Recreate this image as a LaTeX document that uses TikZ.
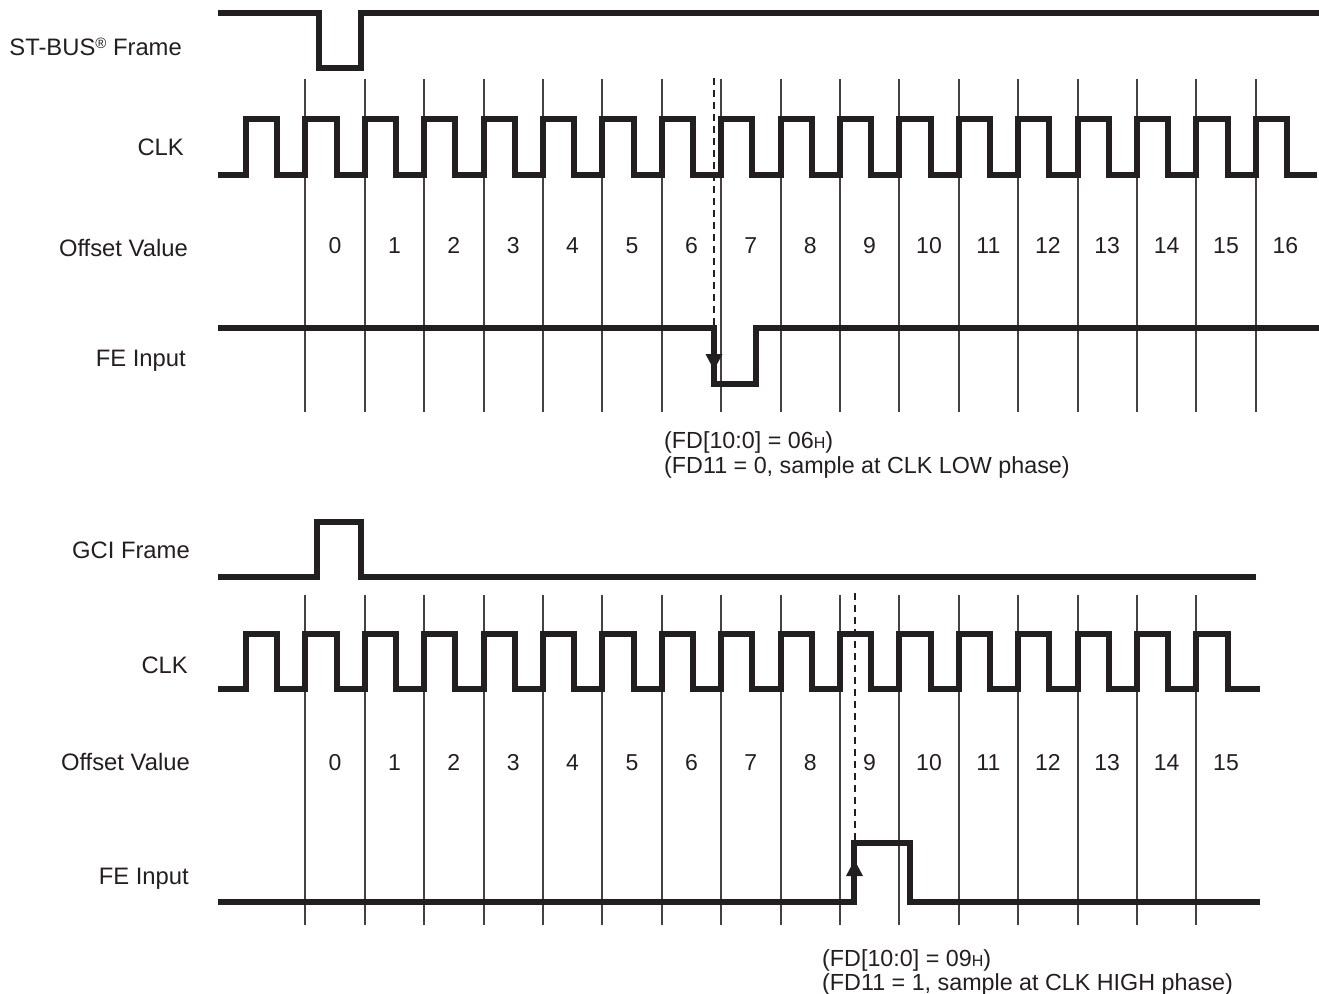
\documentclass[tikz,border=0pt]{standalone}
\usepackage{fontspec}
\setmainfont{Liberation Sans}
\definecolor{ink}{HTML}{231F20}
\begin{document}
\begin{tikzpicture}[x=1pt,y=-1pt,
  sig/.style={line width=6pt, draw=ink, line join=miter, line cap=butt},
  gridln/.style={line width=2pt, draw=ink!85},
  dashln/.style={line width=1.8pt, draw=ink, dash pattern=on 7pt off 5pt},
  lbl/.style={anchor=base east, inner sep=0pt, text=ink, font=\fontsize{23.8}{27}\selectfont},
  num/.style={anchor=base, inner sep=0pt, text=ink, font=\fontsize{23}{27}\selectfont},
  note/.style={anchor=base west, inner sep=0pt, text=ink, font=\fontsize{23.3}{27}\selectfont},
  tipfill/.style={fill=ink, draw=none}]
\useasboundingbox (0,0) rectangle (1319,993);
% ================= TOP =================
\foreach \k in {0,...,16} \draw[gridln] ({305.3+59.4*\k},79) -- ({305.3+59.4*\k},412);
\foreach \k in {0,...,16} \node[num] (tn\k) at ({335+59.4*\k},253.5) {\k};
% ST-BUS frame
\draw[sig] (218,13) -- (319,13) -- (319,68) -- (361,68) -- (361,13) -- (1319,13);
% CLK
\draw[sig] (218,175) \foreach \k in {-1,...,16} { -- ({305.3+59.4*\k},175) -- ({305.3+59.4*\k},119) -- ({336.5+59.4*\k},119) -- ({336.5+59.4*\k},175) } -- (1317,175);
% FE input
\draw[sig] (218,328) -- (714,328) -- (714,384) -- (756,384) -- (756,328) -- (1319,328);
\draw[dashln] (714,78) -- (714,326);
\fill[tipfill] (705.5,354) -- (722.5,354) -- (714,370) -- cycle;
\node[lbl] (l1) at (182,55) {ST-BUS\raisebox{0.55ex}{\fontsize{15}{15}\selectfont ®} Frame};
\node[lbl] (l2) at (184,155) {CLK};
\node[lbl] (l3) at (188,256) {Offset Value};
\node[lbl] (l4) at (186,366) {FE Input};
\node[note] (n1) at (664,448) {(FD[10:0] = 06{\fontsize{16}{16}\selectfont H})};
\node[note] (n2) at (664,473) {(FD11 = 0, sample at CLK LOW phase)};
% ================= BOTTOM =================
\foreach \k in {0,...,15} \draw[gridln] ({305.3+59.4*\k},595) -- ({305.3+59.4*\k},925);
\foreach \k in {0,...,15} \node[num] (bn\k) at ({335+59.4*\k},770) {\k};
% GCI frame
\draw[sig] (218,577) -- (317,577) -- (317,522) -- (361,522) -- (361,577) -- (1256,577);
% CLK
\draw[sig] (218,689) \foreach \k in {-1,...,15} { -- ({305.3+59.4*\k},689) -- ({305.3+59.4*\k},634) -- ({336.5+59.4*\k},634) -- ({336.5+59.4*\k},689) } -- (1260,689);
% FE input
\draw[sig] (218,902) -- (854,902) -- (854,843) -- (910,843) -- (910,902) -- (1260,902);
\draw[dashln] (855,593) -- (855,841);
\fill[tipfill] (846,876) -- (863,876) -- (854.5,860) -- cycle;
\node[lbl] (l5) at (190,558) {GCI Frame};
\node[lbl] (l6) at (188,673) {CLK};
\node[lbl] (l7) at (190,770) {Offset Value};
\node[lbl] (l8) at (189,884) {FE Input};
\node[note] (n3) at (822,966) {(FD[10:0] = 09{\fontsize{16}{16}\selectfont H})};
\node[note] (n4) at (822,990) {(FD11 = 1, sample at CLK HIGH phase)};
\end{tikzpicture}
\end{document}
